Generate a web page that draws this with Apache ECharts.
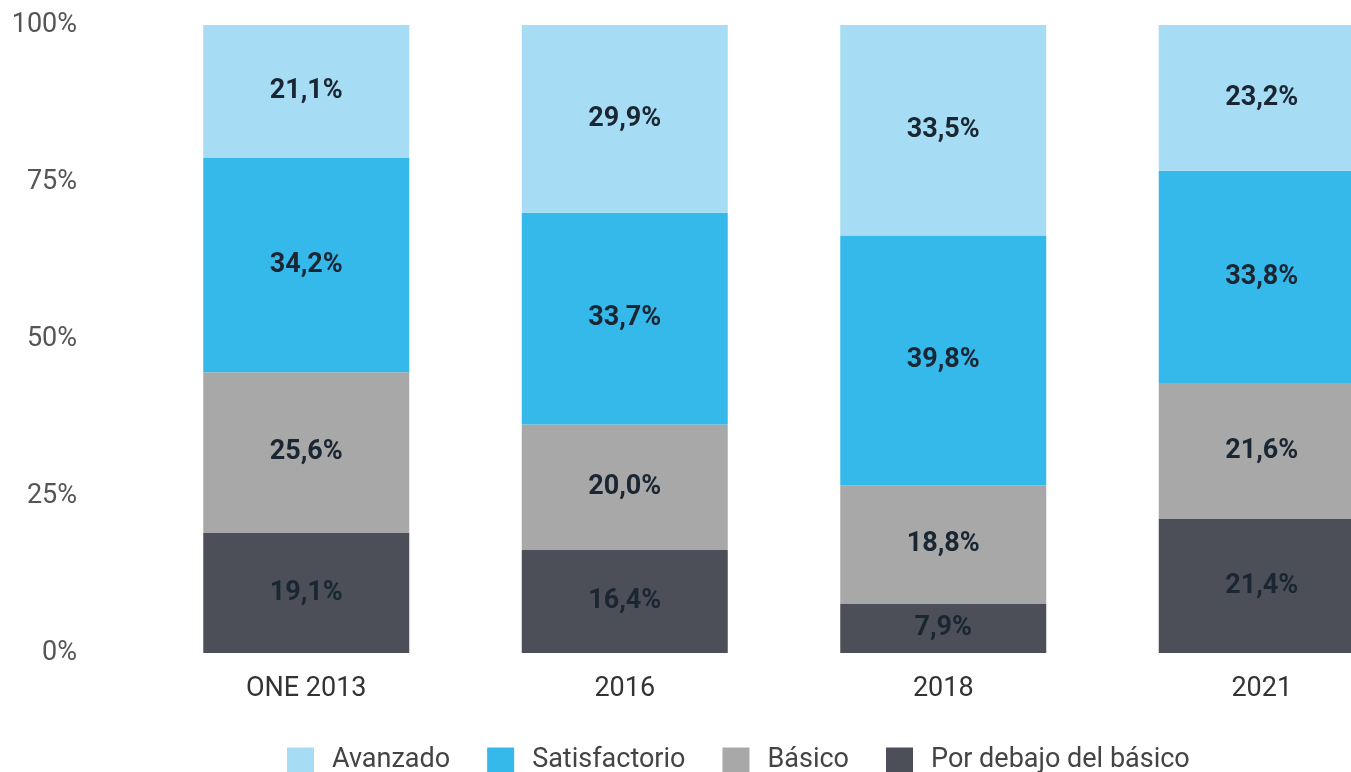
<!DOCTYPE html>
<html><head><meta charset="utf-8">
<script src="https://cdn.jsdelivr.net/npm/echarts@6/dist/echarts.min.js"></script>
<style>html,body{margin:0;padding:0;background:#fff;overflow:hidden}#c{width:1351px;height:772px}</style>
</head><body><div id="c"></div>
<script>
var categories = ['ONE 2013', '2016', '2018', '2021'];
var avanzado = [21.1, 29.9, 33.5, 23.2];
var satisfactorio = [34.2, 33.7, 39.8, 33.8];
var basico = [25.6, 20.0, 18.8, 21.6];
var porDebajo = [19.1, 16.4, 7.9, 21.4];
var yTicks = ['0%', '25%', '50%', '75%', '100%'];

function fmt(p){ return p.value.toFixed(1).replace('.', ',') + '%'; }
function mk(name, data, color){
  return {name:name, type:'bar', stack:'t', data:data, barWidth:206,
    itemStyle:{color:color},
    label:{show:true, position:'inside', formatter:fmt, color:'#1b2633',
      fontFamily:'Roboto', fontWeight:'bold', fontSize:27}};
}
var chart = echarts.init(document.getElementById('c'));
chart.setOption({
  animation:false,
  textStyle:{fontFamily:'Roboto'},
  grid:{left:147, width:1274, top:25, bottom:119, containLabel:false, outerBoundsMode:'none'},
  legend:{top:742, left:282, itemWidth:27, itemHeight:26, itemGap:37,
    textStyle:{fontSize:27, color:'#444', fontFamily:'Roboto', padding:[0,0,0,13]},
    data:['Avanzado','Satisfactorio','Básico','Por debajo del básico'], icon:'rect'},
  xAxis:{type:'category', data:categories, axisLine:{show:false}, axisTick:{show:false},
    axisLabel:{fontSize:27, color:'#333', margin:23}},
  yAxis:{type:'value', min:0, max:100, interval:25, splitLine:{show:false},
    axisLine:{show:false}, axisTick:{show:false},
    axisLabel:{fontSize:27, color:'#555', margin:70, formatter:function(v){return yTicks[v/25];}}},
  series:[
    mk('Por debajo del básico', porDebajo, '#4c4f58'),
    mk('Básico', basico, '#a8a8a8'),
    mk('Satisfactorio', satisfactorio, '#35b8ea'),
    mk('Avanzado', avanzado, '#a6ddf5')
  ]
});
</script></body></html>
